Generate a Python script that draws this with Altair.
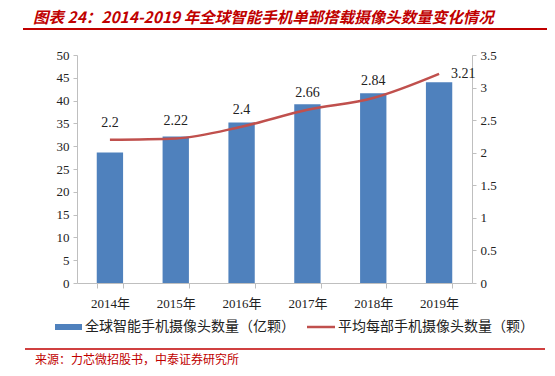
import altair as alt
import pandas as pd

years = ["2014年", "2015年", "2016年", "2017年", "2018年", "2019年"]
cameras = [28.6, 32.1, 35.2, 39.2, 41.6, 44.0]
per_phone = [2.2, 2.22, 2.4, 2.66, 2.84, 3.21]

title_text = "图表 24：2014-2019 年全球智能手机单部搭载摄像头数量变化情况"
legend_bar = "全球智能手机摄像头数量（亿颗）"
legend_line = "平均每部手机摄像头数量（颗）"
source_text = "来源：力芯微招股书，中泰证券研究所"

df = pd.DataFrame({"year": years, "cameras": cameras, "per_phone": per_phone})

BLUE = "#4F81BD"
RED = "#C0504D"
SERIF = "Liberation Serif, Noto Sans CJK SC"
CJK = "Noto Sans CJK SC"

W, H = 395, 228

xenc = alt.X("year:N", sort=years, title=None,
             scale=alt.Scale(paddingInner=0.6, paddingOuter=0.3),
             axis=alt.Axis(labelAngle=0, labelFont=SERIF, labelFontSize=13, labelColor="#222",
                           domainColor="#BFBFBF", tickColor="#BFBFBF", tickBand="extent",
                           tickSize=5, labelPadding=9))

base = alt.Chart(df)

bars = base.mark_bar(color=BLUE).encode(
    x=xenc,
    y=alt.Y("cameras:Q", title=None,
            scale=alt.Scale(domain=[0, 50]),
            axis=alt.Axis(values=[0, 5, 10, 15, 20, 25, 30, 35, 40, 45, 50], grid=False,
                          labelOverlap=False, labelFlush=False,
                          labelFont=SERIF, labelFontSize=13, labelColor="#222",
                          domainColor="#BFBFBF", tickColor="#BFBFBF", tickSize=4,
                          labelPadding=4)),
)

right_axis = alt.Axis(orient="right", values=[0, 0.5, 1, 1.5, 2, 2.5, 3, 3.5], grid=False,
                      format="~g", labelOverlap=False, labelFlush=False,
                      labelFont=SERIF, labelFontSize=13, labelColor="#222",
                      domainColor="#BFBFBF", tickColor="#BFBFBF", tickSize=4,
                      labelPadding=4)
yr = alt.Y("per_phone:Q", title=None, scale=alt.Scale(domain=[0, 3.5]), axis=right_axis)
xs = alt.X("year:N", sort=years)

line = base.mark_line(color=RED, strokeWidth=2.5, interpolate="monotone").encode(x=xs, y=yr)

labels = base.transform_filter(alt.datum.year != years[-1]).mark_text(
    font=SERIF, fontSize=14, color="#222", dy=-17).encode(
    x=xs, y=yr, text=alt.Text("per_phone:Q"))

label_last = base.transform_filter(alt.datum.year == years[-1]).mark_text(
    font=SERIF, fontSize=14, color="#222", align="left", dx=12, dy=0).encode(
    x=xs, y=yr, text=alt.Text("per_phone:Q"))

main = alt.layer(bars, alt.layer(line, labels, label_last)).resolve_scale(y="independent")

one = pd.DataFrame({"k": [0]})
d = alt.Chart(one)

title = d.mark_text(font=CJK, fontSize=15.5, fontWeight="bold", fontStyle="italic",
                    color="#C00000", align="left", baseline="middle").encode(
    x=alt.value(-44), y=alt.value(-37), text=alt.value(title_text))
title_rule = d.mark_rule(color="#C00000", strokeWidth=2).encode(
    x=alt.value(-54), x2=alt.value(470), y=alt.value(-26))

leg_rect = d.mark_rect(color=BLUE).encode(
    x=alt.value(-22), x2=alt.value(5), y=alt.value(269), y2=alt.value(275))
leg_text1 = d.mark_text(font=CJK, fontSize=14, color="#222", align="left", baseline="middle").encode(
    x=alt.value(8), y=alt.value(272), text=alt.value(legend_bar))
leg_line = d.mark_rule(color=RED, strokeWidth=2.5).encode(
    x=alt.value(230), x2=alt.value(258), y=alt.value(272))
leg_text2 = d.mark_text(font=CJK, fontSize=14, color="#222", align="left", baseline="middle").encode(
    x=alt.value(261), y=alt.value(272), text=alt.value(legend_line))

src_rule = d.mark_rule(color="#C00000", strokeWidth=1.5).encode(
    x=alt.value(-52), x2=alt.value(468), y=alt.value(294))
src_text = d.mark_text(font=CJK, fontSize=12, color="#C00000", align="left", baseline="middle").encode(
    x=alt.value(-42), y=alt.value(305), text=alt.value(source_text))

chart = alt.layer(main, title, title_rule, leg_rect, leg_text1, leg_line, leg_text2,
                  src_rule, src_text).properties(
    width=W, height=H,
    autosize=alt.AutoSizeParams(type="none"),
    padding={"left": 69, "top": 47, "right": 75, "bottom": 85},
).configure_view(stroke=None)

chart.save("out.html", embed_options={"renderer": "svg", "actions": False})
